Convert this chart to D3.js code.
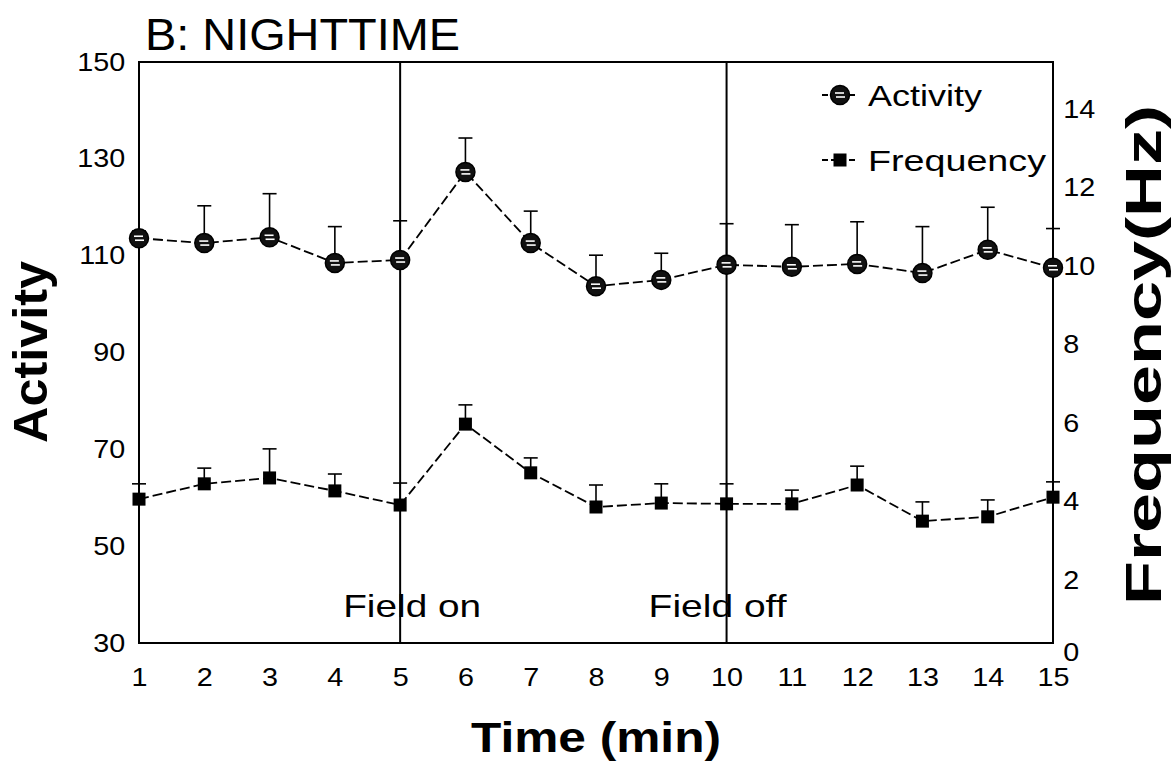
<!DOCTYPE html>
<html lang="en">
<head>
<meta charset="UTF-8">
<title>B: NIGHTTIME</title>
<script src="https://d3js.org/d3.v7.min.js"></script>
<style>
  body { margin: 0; background: #fff; }
  svg { display: block; font-family: 'Liberation Sans', Arial, sans-serif; }
</style>
</head>
<body>
<svg id="chart" width="1175" height="770"></svg>
<script>
// data
const times = [1, 2, 3, 4, 5, 6, 7, 8, 9, 10, 11, 12, 13, 14, 15];
const activity = [113.6, 112.6, 113.8, 108.5, 109.1, 127.3, 112.6, 103.7, 105.0, 108.1, 107.7, 108.3, 106.4, 111.2, 107.5];
const activityErr = [1.5, 7.7, 9.0, 7.5, 8.1, 7.0, 6.6, 6.4, 5.5, 8.5, 8.7, 8.7, 9.6, 8.8, 8.1];
const frequency = [4.07, 4.46, 4.61, 4.28, 3.92, 5.98, 4.74, 3.87, 3.97, 3.95, 3.95, 4.43, 3.51, 3.62, 4.12];
const frequencyErr = [0.39, 0.40, 0.74, 0.43, 0.56, 0.49, 0.38, 0.56, 0.49, 0.51, 0.35, 0.48, 0.49, 0.43, 0.39];
const leftTicks = [30, 50, 70, 90, 110, 130, 150];
const rightTicks = [0, 2, 4, 6, 8, 10, 12, 14];
const events = [{ t: 5, label: "Field on", shift: -57 }, { t: 10, label: "Field off", shift: -78 }];

const svg = d3.select("#chart");
const pLeft = 139, pRight = 1053, pTop = 62, pBottom = 643;

const x = d3.scaleLinear().domain([1, 15]).range([pLeft, pRight]);
const yL = d3.scaleLinear().domain([30, 150]).range([pBottom, pTop]);
const yR = d3.scaleLinear().domain([0, 15.2]).range([659, pTop]);

// helper for stretched text (the scan is a bit wide)
function label(px, py, str, size, weight, len, anchor, rot) {
  const t = svg.append("text")
    .attr("transform", `translate(${px},${py})` + (rot ? ` rotate(${rot})` : ""))
    .attr("font-size", size)
    .attr("font-weight", weight)
    .attr("text-anchor", anchor || "start")
    .attr("fill", "#000")
    .text(str);
  if (len) t.attr("textLength", len).attr("lengthAdjust", "spacingAndGlyphs");
  return t;
}

// axes (labels only, frame drawn separately)
const axL = svg.append("g").attr("transform", `translate(${pLeft},0)`)
  .call(d3.axisLeft(yL).tickValues(leftTicks).tickSize(0).tickPadding(12));
const axR = svg.append("g").attr("transform", `translate(${pRight},0)`)
  .call(d3.axisRight(yR).tickValues(rightTicks).tickSize(0).tickPadding(9));
const axB = svg.append("g").attr("transform", `translate(0,${pBottom})`)
  .call(d3.axisBottom(x).tickValues(times).tickFormat(d3.format("d")).tickSize(0).tickPadding(25));
[axL, axR, axB].forEach(g => {
  g.select(".domain").remove();
  g.selectAll("text").attr("font-size", 25).attr("fill", "#000")
    .attr("font-family", "'Liberation Sans', Arial, sans-serif")
    .attr("transform", "scale(1.15,1)");
});
// the 0 on the right sits a little higher in the original
axR.selectAll(".tick").filter(d => d === 0).select("text").attr("y", -7);

// frame
svg.append("rect")
  .attr("x", pLeft).attr("y", pTop)
  .attr("width", pRight - pLeft).attr("height", pBottom - pTop)
  .attr("fill", "none").attr("stroke", "#000").attr("stroke-width", 2);

// field on / off markers
events.forEach(e => {
  svg.append("line")
    .attr("x1", x(e.t)).attr("x2", x(e.t))
    .attr("y1", pTop).attr("y2", pBottom)
    .attr("stroke", "#000").attr("stroke-width", 2);
  label(x(e.t) + e.shift, 617, e.label, 32, "normal", 138);
});

// error bars
function errBars(vals, errs, scale) {
  const g = svg.append("g").attr("stroke", "#000").attr("stroke-width", 1.6);
  times.forEach((t, i) => {
    const yTop = scale(vals[i] + errs[i]);
    g.append("line").attr("x1", x(t)).attr("x2", x(t))
      .attr("y1", scale(vals[i])).attr("y2", yTop);
    g.append("line").attr("x1", x(t) - 7).attr("x2", x(t) + 7)
      .attr("y1", yTop).attr("y2", yTop);
  });
}
errBars(activity, activityErr, yL);
errBars(frequency, frequencyErr, yR);

// connecting lines
const lineA = d3.line().x((d, i) => x(times[i])).y(d => yL(d));
const lineF = d3.line().x((d, i) => x(times[i])).y(d => yR(d));
svg.append("path").datum(activity).attr("d", lineA)
  .attr("fill", "none").attr("stroke", "#000").attr("stroke-width", 1.8).attr("stroke-dasharray", "10,4");
svg.append("path").datum(frequency).attr("d", lineF)
  .attr("fill", "none").attr("stroke", "#000").attr("stroke-width", 1.8).attr("stroke-dasharray", "10,4");

// markers
function circleMark(g, cx, cy) {
  g.append("circle").attr("cx", cx).attr("cy", cy).attr("r", 9.5)
    .attr("fill", "#111").attr("stroke", "#000").attr("stroke-width", 1.5);
  g.append("line").attr("x1", cx - 5).attr("x2", cx + 4).attr("y1", cy - 2).attr("y2", cy - 2)
    .attr("stroke", "#fff").attr("stroke-width", 1.6);
  g.append("line").attr("x1", cx - 4).attr("x2", cx + 5).attr("y1", cy + 2).attr("y2", cy + 2)
    .attr("stroke", "#fff").attr("stroke-width", 1.6);
}
function squareMark(g, cx, cy) {
  g.append("rect").attr("x", cx - 6.5).attr("y", cy - 6.5)
    .attr("width", 13).attr("height", 13).attr("fill", "#000");
}
const mA = svg.append("g");
activity.forEach((v, i) => circleMark(mA, x(times[i]), yL(v)));
const mF = svg.append("g");
frequency.forEach((v, i) => squareMark(mF, x(times[i]), yR(v)));

// legend
const lg = svg.append("g");
[[95, "Activity", circleMark, 114], [160, "Frequency", squareMark, 178]].forEach(([ly, name, fn, len]) => {
  lg.append("line").attr("x1", 822).attr("x2", 858).attr("y1", ly).attr("y2", ly)
    .attr("stroke", "#000").attr("stroke-width", 1.8).attr("stroke-dasharray", "6,3");
  fn(lg, 840, ly);
  label(868, ly + 11, name, 29, "normal", len);
});

// titles
label(145, 50, "B: NIGHTTIME", 44, "normal", 315);
label(47, 352, "Activity", 48, "bold", 182, "middle", -90);
label(1161, 355, "Frequency(Hz)", 50, "bold", 500, "middle", -90);
label(596, 752, "Time  (min)", 42, "bold", 250, "middle");
</script>
</body>
</html>
